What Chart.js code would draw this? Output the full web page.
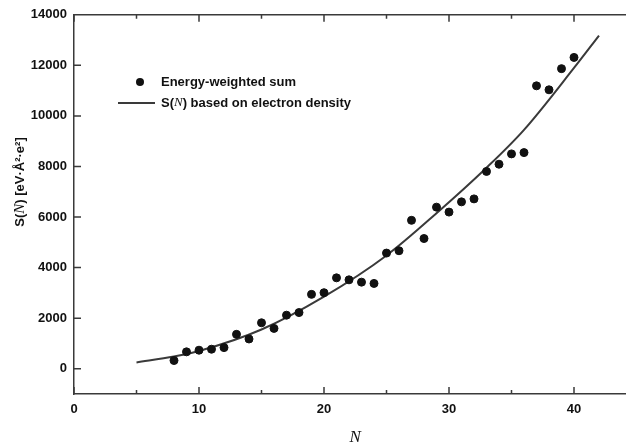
<!DOCTYPE html>
<html>
<head>
<meta charset="utf-8">
<script src="https://cdn.jsdelivr.net/npm/chart.js@4"></script>
<style>
  body { margin: 0; overflow: hidden; background: #fff; }
  #wrap { width: 660px; height: 448px; }
</style>
</head>
<body>
<div id="wrap"><canvas id="chart" width="660" height="448"></canvas></div>
<script>
// data
const nValues = [8, 9, 10, 11, 12, 13, 14, 15, 16, 17, 18, 19, 20, 21, 22, 23, 24,
  25, 26, 27, 28, 29, 30, 31, 32, 33, 34, 35, 36, 37, 38, 39, 40];
const sumValues = [325, 667, 733, 772, 835, 1360, 1176, 1817, 1595, 2118, 2222, 2941,
  3007, 3595, 3516, 3425, 3373, 4575, 4667, 5870, 5150, 6392, 6196, 6600, 6718, 7804,
  8090, 8498, 8549, 11190, 11033, 11870, 12314];
const curveN = [5, 8, 10, 15, 20, 25, 29, 33, 36, 40, 42];
const curveS = [250, 480, 700, 1550, 2850, 4480, 6150, 7950, 9450, 11900, 13180];
const xTicks = [0, 5, 10, 15, 20, 25, 30, 35, 40, 45];
const yTicks = [0, 2000, 4000, 6000, 8000, 10000, 12000, 14000];
const seriesNames = ["Energy-weighted sum", "S(N) based on electron density"];
const xTitle = "N";
const yTitle = ["S(", "N", ") [eV\u00b7\u00c5\u00b2\u00b7e\u00b2]"];

const FONT = "'Liberation Sans', Arial, sans-serif";
const INK = "#111";
const LINE = "#3a3a3a";

// inward ticks, top frame, legend and y title
const extras = {
  id: "extras",
  afterDraw(chart) {
    const ctx = chart.ctx;
    const area = chart.chartArea;
    const x = chart.scales.x, y = chart.scales.y;
    ctx.save();
    ctx.strokeStyle = LINE;
    ctx.lineWidth = 1.5;
    ctx.beginPath();
    ctx.moveTo(area.left, area.top);
    ctx.lineTo(area.right, area.top);
    x.ticks.forEach(t => {
      const px = x.getPixelForValue(t.value);
      const len = t.value % 10 === 0 ? 7 : 4;
      ctx.moveTo(px, area.bottom);
      ctx.lineTo(px, area.bottom - len);
      ctx.moveTo(px, area.top);
      ctx.lineTo(px, area.top + len);
    });
    y.ticks.forEach(t => {
      const py = y.getPixelForValue(t.value);
      ctx.moveTo(area.left, py);
      ctx.lineTo(area.left + 7, py);
    });
    ctx.stroke();

    // legend
    ctx.fillStyle = INK;
    ctx.beginPath();
    ctx.arc(140, 82, 4, 0, Math.PI * 2);
    ctx.fill();
    ctx.strokeStyle = LINE;
    ctx.lineWidth = 2;
    ctx.beginPath();
    ctx.moveTo(118, 103);
    ctx.lineTo(155, 103);
    ctx.stroke();
    ctx.font = "bold 13px " + FONT;
    ctx.textBaseline = "middle";
    ctx.textAlign = "left";
    ctx.fillText(chart.data.datasets[0].label, 161, 82);
    const parts = ["S(", "N", ") based on electron density"];
    let lx = 161;
    parts.forEach((p, i) => {
      ctx.font = i === 1 ? "italic 13px 'Liberation Serif', serif" : "bold 13px " + FONT;
      ctx.fillText(p, lx, 103);
      lx += ctx.measureText(p).width;
    });

    // y title
    ctx.translate(20, 182);
    ctx.rotate(-Math.PI / 2);
    const fonts = ["bold 13px " + FONT, "italic 15px 'Liberation Serif', serif", "bold 13px " + FONT];
    let total = 0;
    yTitle.forEach((p, i) => { ctx.font = fonts[i]; total += ctx.measureText(p).width; });
    let tx = -total / 2;
    yTitle.forEach((p, i) => {
      ctx.font = fonts[i];
      ctx.fillText(p, tx, 0);
      tx += ctx.measureText(p).width;
    });
    ctx.restore();
  }
};

new Chart(document.getElementById("chart"), {
  type: "scatter",
  data: {
    datasets: [
      {
        label: seriesNames[0],
        data: nValues.map((n, i) => ({ x: n, y: sumValues[i] })),
        backgroundColor: INK,
        borderColor: INK,
        pointRadius: 4,
        pointHoverRadius: 4
      },
      {
        label: seriesNames[1],
        type: "line",
        data: curveN.map((n, i) => ({ x: n, y: curveS[i] })),
        borderColor: LINE,
        borderWidth: 2,
        pointRadius: 0,
        cubicInterpolationMode: "monotone",
        fill: false
      }
    ]
  },
  options: {
    responsive: false,
    animation: false,
    layout: { padding: { top: 12, left: 0, right: 23.5, bottom: 0 } },
    plugins: { legend: { display: false }, tooltip: { enabled: false } },
    scales: {
      x: {
        type: "linear",
        min: 0,
        max: 45,
        afterFit: s => { s.height = 54; },
        afterBuildTicks: s => { s.ticks = xTicks.map(v => ({ value: v })); },
        border: { display: true, color: LINE, width: 1.5 },
        grid: { display: true, drawOnChartArea: false, drawTicks: false },
        ticks: {
          autoSkip: false,
          maxRotation: 0,
          padding: 8,
          color: INK,
          font: { family: FONT, size: 13, weight: "bold" },
          callback: v => (v % 10 === 0 ? String(v) : "")
        },
        title: {
          display: true,
          text: xTitle,
          color: INK,
          padding: { top: 6, bottom: 0 },
          font: { family: "'Liberation Serif', serif", style: "italic", size: 17 }
        }
      },
      y: {
        min: -1000,
        max: 14000,
        afterFit: s => { s.width = 74; },
        afterBuildTicks: s => { s.ticks = yTicks.map(v => ({ value: v })); },
        border: { display: true, color: LINE, width: 1.5 },
        grid: { display: true, drawOnChartArea: false, drawTicks: false },
        ticks: {
          padding: 7,
          color: INK,
          font: { family: FONT, size: 13, weight: "bold" },
          callback: v => String(v)
        }
      }
    }
  },
  plugins: [extras]
});
</script>
</body>
</html>
